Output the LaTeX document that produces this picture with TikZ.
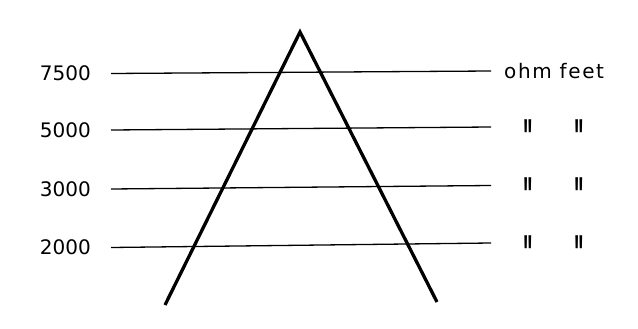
\documentclass[tikz,border=0pt]{standalone}
\usepackage{fontspec}
\setmainfont{DejaVu Sans}
\newfontfamily\letterfont[LetterSpace=8]{DejaVu Sans}
\newfontfamily\dittofont{Liberation Sans}
\usepackage{graphicx}
\newcommand{\dittomark}{{\dittofont\bfseries\scalebox{1}[2.6]{"}}}
\usetikzlibrary{positioning}

\begin{document}
\begin{tikzpicture}[x=1pt, y=-1pt,
    level/.style={line width=1.3pt},
    tri/.style={line width=3.3pt, line join=miter},
    lbl/.style={inner sep=0pt, font=\fontsize{20}{20}\selectfont},
    unitlbl/.style={inner sep=0pt, font=\letterfont\fontsize{20}{20}\selectfont}]
  \useasboundingbox (0,0) rectangle (638,329);
  % Triangle
  \coordinate (apex) at (300,32);
  \coordinate (footL) at (165,305);
  \coordinate (footR) at (437,302);
  \draw[tri] (footL) -- (apex) -- (footR);
  % Level lines
  \coordinate (s7500) at (111,73.5);
  \coordinate (e7500) at (491,71);
  \coordinate (s5000) at (111,130);
  \coordinate (e5000) at (491,127);
  \coordinate (s3000) at (111,189);
  \coordinate (e3000) at (491,185.5);
  \coordinate (s2000) at (111,247.5);
  \coordinate (e2000) at (491,243);
  \draw[level] (s7500) -- (e7500);
  \draw[level] (s5000) -- (e5000);
  \draw[level] (s3000) -- (e3000);
  \draw[level] (s2000) -- (e2000);
  % Values
  \node[lbl, left=20pt of s7500] (v7500) {7500};
  \node[lbl, left=20pt of s5000] (v5000) {5000};
  \node[lbl, left=20pt of s3000] (v3000) {3000};
  \node[lbl, left=20pt of s2000] (v2000) {2000};
  % Units
  \node[unitlbl, right=13pt of e7500] (unit) {ohm feet};
  \node[lbl, anchor=north] (d5000a) at (528.5,119.5) {\dittomark};
  \node[lbl, anchor=north] (d5000b) at (579,119.5) {\dittomark};
  \node[lbl, anchor=north] (d3000a) at (528.5,178) {\dittomark};
  \node[lbl, anchor=north] (d3000b) at (579,178) {\dittomark};
  \node[lbl, anchor=north] (d2000a) at (528.5,235.5) {\dittomark};
  \node[lbl, anchor=north] (d2000b) at (579,235.5) {\dittomark};
\end{tikzpicture}
\end{document}
